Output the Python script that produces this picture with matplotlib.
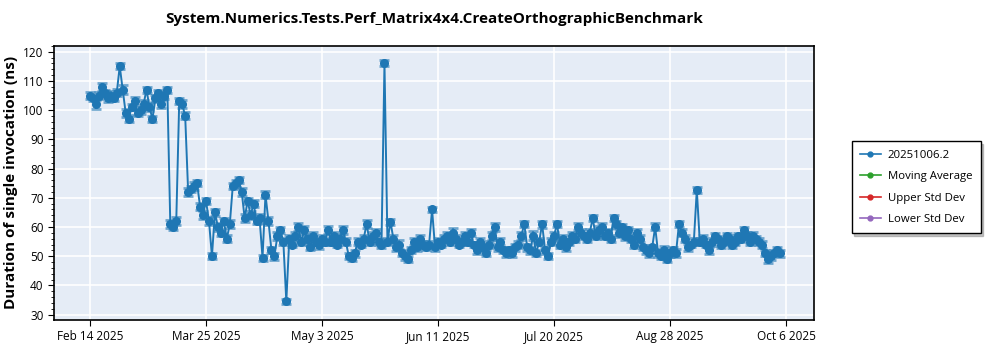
import numpy as np
import matplotlib
matplotlib.use('Agg')
import matplotlib.pyplot as plt
import matplotlib.dates as mdates
from matplotlib.lines import Line2D
from matplotlib.ticker import MultipleLocator

plt.rcParams['font.family'] = ['Open Sans', 'DejaVu Sans']

# one value per day starting Feb 14 2025 (ns)
start_date = '2025-02-14'
values = [
    105, 104, 102, 105, 108, 106, 104, 105, 104, 106, 115, 107,
    99, 97, 101, 103, 99,
    100, 102, 107, 101, 97, 104, 106, 102, 105, 107,
    61, 60, 62,
    103, 102, 98,
    72, 73, 74, 75,
    67, 64, 69, 62, 50,
    65, 60, 58, 62, 56, 61,
    74, 75, 76, 72,
    63, 69, 64, 68, 62, 63,
    49.5,
    71, 62,
    52, 50,
    57, 59, 55,
    34.5,
    56, 54, 57, 60, 55, 59, 56, 53, 57, 55, 54, 56, 55, 59,
    55, 57, 54, 56, 59, 55,
    50, 49.5, 51,
    55, 54, 56, 61, 55, 57, 58, 55, 54,
    116,
    55, 61.8,
    56, 53, 54, 51, 50, 49,
    52, 55, 53, 56, 54, 53,
    54, 66,
    53, 55, 54, 56, 57, 55, 58, 56, 54, 55, 57, 55, 58,
    54, 52, 55, 53, 51, 54, 57, 60, 53, 55, 52,
    51, 52, 51, 53, 54, 57,
    61, 53, 52, 57, 51, 55, 61, 52, 50,
    55, 57, 61, 54, 56, 53, 55,
    57, 56, 60, 58, 57, 56, 58, 63, 57, 59, 60, 57, 58, 56,
    63, 61, 58, 60, 57, 59, 56, 54, 58,
    56, 53, 52,
    51, 53, 60, 51, 50, 52, 49, 51, 52, 51,
    61, 58, 56,
    53,
    54, 55, 72.7,
    55, 56, 54, 52, 55, 57, 56, 54, 55, 57, 56, 54, 55, 57, 56, 59, 57, 55, 57, 56, 55,
    54, 51, 49, 50, 51, 52, 51,
]
errors = [
    1.2, 1.0, 1.5, 1.1, 1.3, 1.0, 1.2, 1.4, 1.0, 1.2, 1.0, 1.5,
    1.3, 1.2, 1.0, 1.4, 1.1,
    1.2, 1.5, 1.0, 1.3, 1.1, 1.2, 1.0, 1.4, 1.2, 1.0,
    1.5, 1.2, 1.3,
    1.0, 1.4, 1.2,
    1.3, 1.1, 1.5, 1.0,
    1.2, 1.4, 1.0, 1.3, 1.0,
    1.1, 1.5, 1.2, 1.0, 1.3, 1.4,
    1.0, 1.2, 1.1, 1.5,
    1.3, 1.0, 1.4, 1.2, 1.1, 1.5,
    1.0,
    1.2, 1.3,
    1.0, 1.2,
    1.4, 1.1, 1.3,
    1.0,
    1.2, 1.0, 1.4, 1.3, 1.1, 1.5, 1.2, 1.0, 1.3, 1.1, 1.4, 1.2, 1.0, 1.5,
    1.1, 1.3, 1.0, 1.2, 1.4, 1.1,
    1.0, 1.2, 1.1,
    1.3, 1.0, 1.2, 1.5, 1.1, 1.3, 1.4, 1.0, 1.2,
    1.0,
    1.2, 1.0,
    1.3, 1.1, 1.4, 1.0, 1.2, 1.1,
    1.0, 1.3, 1.2, 1.4, 1.1, 1.0,
    1.2, 1.0,
    1.1, 1.3, 1.0, 1.2, 1.4, 1.1, 1.5, 1.2, 1.0, 1.3, 1.4, 1.1, 1.2,
    1.0, 1.2, 1.3, 1.1, 1.0, 1.2, 1.4, 1.5, 1.1, 1.3, 1.0,
    1.2, 1.0, 1.1, 1.3, 1.2, 1.4,
    1.0, 1.2, 1.1, 1.5, 1.0, 1.3, 1.2, 1.1, 1.0,
    1.2, 1.3, 1.0, 1.1, 1.4, 1.2, 1.0,
    1.3, 1.1, 1.2, 1.4, 1.0, 1.2, 1.3, 1.0, 1.1, 1.5, 1.2, 1.0, 1.3, 1.1,
    1.0, 1.2, 1.4, 1.1, 1.3, 1.0, 1.2, 1.1, 1.4,
    1.2, 1.0, 1.3,
    1.1, 1.0, 1.2, 1.3, 1.0, 1.4, 1.1, 1.2, 1.0, 1.3,
    1.0, 1.2, 1.1,
    1.3,
    1.0, 1.2, 1.0,
    1.1, 1.3, 1.0, 1.2, 1.4, 1.1, 1.0, 1.3, 1.2, 1.0, 1.4, 1.1, 1.2, 1.0, 1.3, 1.0, 1.2, 1.1, 1.3, 1.0, 1.2,
    1.1, 1.0, 1.2, 1.3, 1.0, 1.2, 1.1,
]

tick_dates = ['2025-02-14', '2025-03-25', '2025-05-03', '2025-06-11',
              '2025-07-20', '2025-08-28', '2025-10-06']
tick_labels = ['Feb 14 2025', 'Mar 25 2025', 'May 3 2025', 'Jun 11 2025',
               'Jul 20 2025', 'Aug 28 2025', 'Oct 6 2025']
legend_labels = ['20251006.2', 'Moving Average', 'Upper Std Dev', 'Lower Std Dev']
legend_colors = ['#1f77b4', '#2ca02c', '#d62728', '#9467bd']

title = 'System.Numerics.Tests.Perf_Matrix4x4.CreateOrthographicBenchmark'

dates = np.datetime64(start_date) + np.arange(len(values)).astype('timedelta64[D]')

fig = plt.figure(figsize=(10, 3.5), dpi=100)
ax = fig.add_axes([0.054, 0.086, 0.76, 0.783])
ax.set_facecolor('#e5ecf6')

ax.errorbar(dates, values, yerr=errors, fmt='none', ecolor='#1f77b4',
            alpha=0.6, capsize=3.5, elinewidth=1.5, capthick=2, zorder=2)
ax.plot(dates, values, '-', color='#1f77b4', lw=1.4, marker='o', ms=5.5,
        zorder=3)

ax.set_xticks([mdates.datestr2num(d) for d in tick_dates])
ax.set_xticklabels(tick_labels, fontsize=8.5)
ax.set_xlim(mdates.datestr2num(start_date) - 12.1,
            mdates.datestr2num(start_date) + 243.4)
ax.set_ylim(28.2, 122)
ax.yaxis.set_major_locator(MultipleLocator(10))
ax.yaxis.set_minor_locator(MultipleLocator(2))
ax.tick_params(axis='y', labelsize=8.5)
ax.tick_params(axis='both', which='major', length=4)
ax.tick_params(axis='y', which='minor', length=2)
ax.grid(True, which='major', color='white', lw=1.2)
ax.set_axisbelow(True)
for s in ax.spines.values():
    s.set_color('black')
    s.set_linewidth(1.2)

fig.text(0.434, 0.945, title, ha='center', va='center', fontsize=11,
         fontweight='bold')
ax.set_ylabel('Duration of single invocation (ns)', fontsize=11,
              fontweight='bold', labelpad=4)

handles = [Line2D([0], [0], color=c, marker='o', ms=3.5, lw=1.2)
           for c in legend_colors]
leg = fig.legend(handles, legend_labels, loc='upper left',
                 bbox_to_anchor=(0.846, 0.612), fontsize=8.2,
                 fancybox=False, shadow={'color': '#888888'}, edgecolor='black',
                 handlelength=1.8, borderpad=0.75, labelspacing=0.9,
                 handletextpad=0.6)
leg.get_frame().set_linewidth(1.0)

fig.savefig('out.png', dpi=100)
